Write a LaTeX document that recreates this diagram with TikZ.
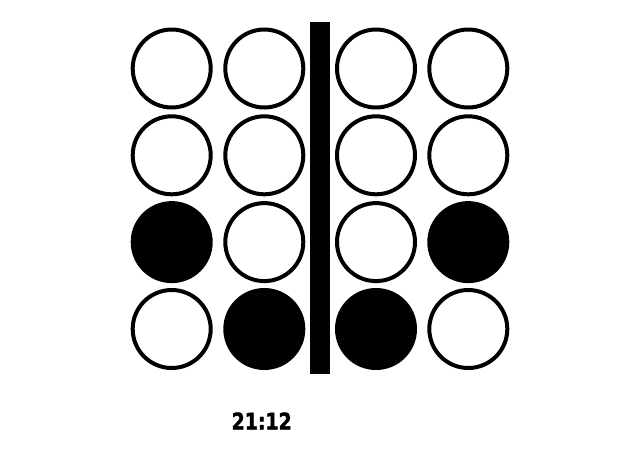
\documentclass[tikz,border=0pt]{standalone}
\usepackage{fontspec}
\setmainfont{Liberation Sans}
\newfontfamily\labelfont[FakeBold=2]{DejaVu Sans Condensed Bold}
\usepackage{graphicx}
\begin{document}
\begin{tikzpicture}[x=1pt,y=-1pt,
  ring/.style={circle,draw=black,line width=4pt,minimum size=78pt,inner sep=0pt,fill=white},
  dot/.style={circle,fill=black,draw=black,line width=4pt,minimum size=78pt,inner sep=0pt},
  barstyle/.style={fill=black}]
\useasboundingbox (0,0) rectangle (640,448);
\fill[white] (0,0) rectangle (640,448);
% columns 171.7, 264.3, 376, 468.3 ; rows 68.5, 155.3, 242.1, 329
\node[ring] (a11) at (171.7,68.5) {};
\node[ring] (a12) at (264.3,68.5) {};
\node[ring] (a13) at (376,68.5) {};
\node[ring] (a14) at (468.3,68.5) {};
\node[ring] (a21) at (171.7,155.3) {};
\node[ring] (a22) at (264.3,155.3) {};
\node[ring] (a23) at (376,155.3) {};
\node[ring] (a24) at (468.3,155.3) {};
\node[dot] (a31) at (171.7,242.1) {};
\node[ring] (a32) at (264.3,242.1) {};
\node[ring] (a33) at (376,242.1) {};
\node[dot] (a34) at (468.3,242.1) {};
\node[ring] (a41) at (171.7,329) {};
\node[dot] (a42) at (264.3,329) {};
\node[dot] (a43) at (376,329) {};
\node[ring] (a44) at (468.3,329) {};
\fill[barstyle] (310,22.3) rectangle (330,374.3);
\node[inner sep=0pt] (lbl) at (261.7,421) {\resizebox{60pt}{17pt}{\labelfont 21:12}};
\end{tikzpicture}
\end{document}
